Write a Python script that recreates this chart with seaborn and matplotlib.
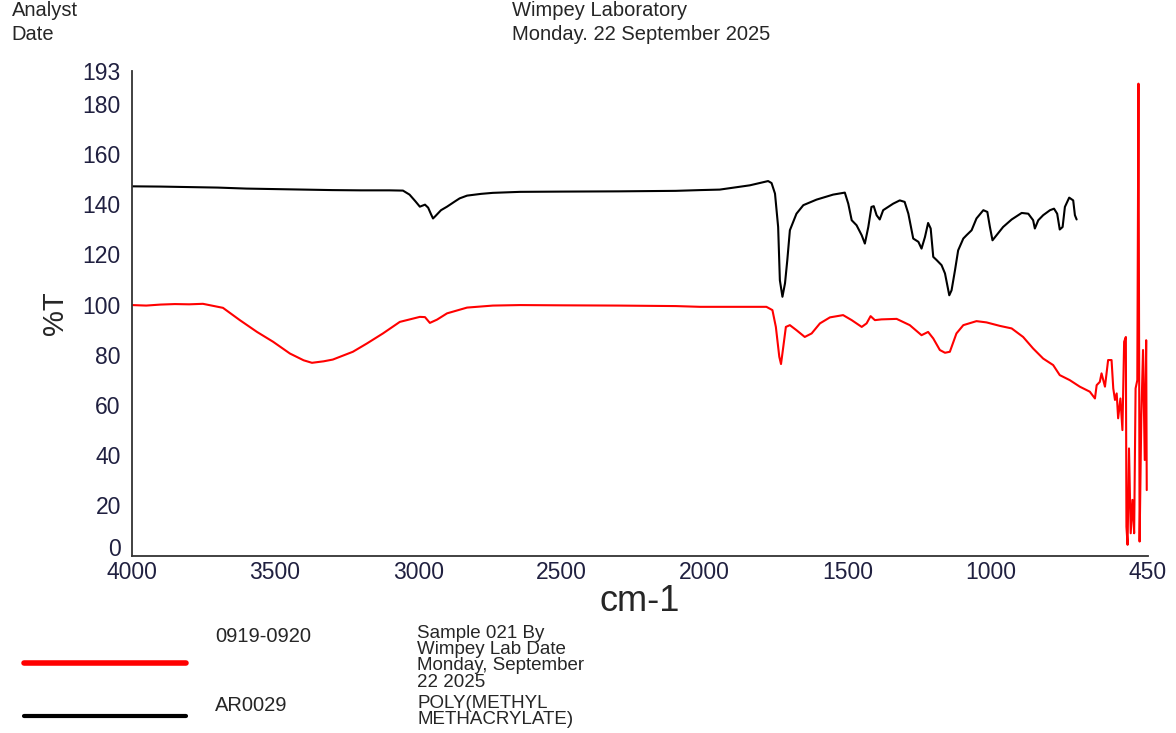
import numpy as np
import pandas as pd
import matplotlib
matplotlib.use("Agg")
import matplotlib.pyplot as plt
import matplotlib.transforms as mtransforms
from matplotlib.lines import Line2D
import seaborn as sns

# --- data (wavenumber cm-1, %T) ---
black_wn = [4000, 3900, 3800, 3700, 3600, 3500, 3400, 3300, 3200, 3100, 3053,
            3030, 3010, 2994, 2976, 2965, 2955, 2948, 2940, 2920, 2899, 2870,
            2855, 2829, 2780, 2739, 2644, 2500, 2300, 2100, 2015, 1946, 1841,
            1777, 1765, 1753, 1742, 1736, 1727, 1718, 1710, 1701, 1678, 1654,
            1608, 1550, 1509, 1497, 1485, 1468, 1450, 1439, 1427, 1416, 1408,
            1398, 1387, 1375, 1340, 1317, 1300, 1287, 1270, 1252, 1241, 1229,
            1218, 1209, 1200, 1188, 1171, 1159, 1144, 1136, 1124, 1113, 1095,
            1084, 1066, 1049, 1025, 1011, 1002, 993, 979, 956, 926, 891, 868,
            851, 845, 833, 816, 792, 778, 767, 758, 748, 740, 725, 711, 705, 699]
black_t = [147.1, 147.0, 146.8, 146.6, 146.2, 146.0, 145.8, 145.6, 145.5, 145.5, 145.4,
           143.8, 141.2, 139.0, 139.8, 138.6, 136.0, 134.3, 135.2, 137.6, 139.0, 141.2,
           142.3, 143.4, 144.1, 144.5, 144.9, 145.0, 145.1, 145.3, 145.6, 145.8, 147.5,
           149.2, 148.4, 144.2, 130.9, 109.7, 103.1, 108.5, 117.7, 129.6, 136.2, 139.6,
           141.8, 143.8, 144.6, 140.2, 133.6, 131.6, 127.6, 124.3, 130.9, 138.9, 139.2,
           135.6, 133.9, 137.6, 140.2, 141.5, 140.9, 136.2, 126.3, 125.0, 122.3, 126.9,
           132.5, 130.3, 119.0, 117.7, 115.7, 112.4, 103.7, 105.7, 113.7, 121.6, 126.3,
           127.6, 129.6, 134.3, 137.6, 136.9, 130.9, 125.6, 127.6, 130.9, 133.9, 136.5, 136.2,
           133.6, 130.3, 133.6, 135.6, 137.6, 138.2, 136.2, 129.9, 130.9, 138.9, 142.6, 141.5, 135.6, 133.9]

red_wn = [4000, 3950, 3900, 3850, 3800, 3752, 3682, 3623, 3563, 3507, 3448,
          3400, 3371, 3330, 3298, 3228, 3179, 3123, 3064, 2994, 2976, 2959,
          2934, 2899, 2829, 2739, 2644, 2500, 2300, 2100, 2015, 1850, 1783,
          1762, 1750, 1738, 1732, 1724, 1715, 1701, 1678, 1649, 1625, 1596,
          1561, 1515, 1485, 1450, 1433, 1419, 1404, 1381, 1328, 1282, 1241,
          1218, 1200, 1177, 1159, 1142, 1119, 1095, 1049, 1014, 967, 926,
          886, 851, 816, 781, 758, 723, 688, 653, 635, 629, 618, 612, 600,
          589, 577, 571, 565, 559, 554, 546, 539, 533, 527, 525, 521, 516,
          510, 504, 498, 493, 487, 483, 479, 473, 467, 461, 456, 454]
red_t = [99.8, 99.6, 100.0, 100.2, 100.1, 100.3, 98.7, 93.8, 89.1, 85.2, 80.5,
         77.8, 76.8, 77.4, 78.1, 81.2, 84.5, 88.5, 93.1, 95.1, 95.0, 92.7,
         94.0, 96.5, 98.8, 99.6, 99.8, 99.7, 99.6, 99.4, 99.1, 99.1, 99.1,
         97.8, 91.1, 79.2, 76.3, 83.2, 91.1, 91.8, 89.8, 87.1, 88.5, 92.5,
         94.9, 95.8, 93.8, 91.1, 92.5, 95.4, 93.8, 94.1, 94.3, 91.8, 87.8,
         89.1, 86.5, 81.9, 80.8, 81.2, 88.5, 91.8, 93.4, 92.9, 91.5, 90.5,
         87.1, 82.5, 78.5, 75.9, 71.9, 69.9, 67.3, 65.3, 62.6, 67.9, 69.2, 72.6, 67.3,
         77.9, 77.9, 66.6, 62.0, 64.6, 54.7, 62.6, 50.0, 85.2, 87.1, 11.5, 4.3, 42.7,
         8.9, 22.2, 8.9, 66.6, 69.9, 188.0, 5.6, 55.3, 81.9, 38.1, 85.8, 26.1]

y_ticks = [0, 20, 40, 60, 80, 100, 120, 140, 160, 180, 193]
x_ticks = [4000, 3500, 3000, 2500, 2000, 1500, 1000, 500, 450]
x_tick_labels = ["4000", "3500", "3000", "2500", "2000", "1500", "1000", "", "450"]

red_df = pd.DataFrame({"wn": red_wn, "T": red_t})
black_df = pd.DataFrame({"wn": black_wn, "T": black_t})

sns.set_style("white")
plt.rcParams["font.family"] = ["Liberation Sans", "DejaVu Sans"]
tick_col = "#202040"

fig = plt.figure(figsize=(11.76, 7.33), dpi=100)
ax = fig.add_axes([0.1122, 0.242, 0.8639, 0.661])

sns.lineplot(data=red_df, x="wn", y="T", color="red", lw=1.5, estimator=None, sort=False, ax=ax)
sns.lineplot(data=black_df, x="wn", y="T", color="black", lw=1.5, estimator=None, sort=False, ax=ax)

ax.set_xlim(4000, 450)
ax.set_ylim(0, 193)
ax.set_xticks(x_ticks)
ax.set_xticklabels(x_tick_labels)
ax.set_yticks(y_ticks)
ax.tick_params(axis="both", labelsize=16.5, colors="#333333", labelcolor=tick_col, width=1.2)
ax.tick_params(axis="y", length=7, pad=1)
ax.tick_params(axis="x", length=4, pad=0)
for s in ["top", "right"]:
    ax.spines[s].set_visible(False)
for s in ["left", "bottom"]:
    ax.spines[s].set_color("#333333")
    ax.spines[s].set_linewidth(1.3)
ax.set_xlabel("cm-1", fontsize=26, labelpad=0)
ax.set_ylabel("%T", fontsize=21, labelpad=10)

# lift the "0" label a little so it sits on the axis corner like the original
zero_lbl = ax.get_yticklabels()[0]
zero_lbl.set_transform(zero_lbl.get_transform() +
                       mtransforms.ScaledTranslation(0, 9 / 100, fig.dpi_scale_trans))

# header
fig.text(0.010, 0.985, "Analyst", fontsize=14.5, va="center")
fig.text(0.010, 0.953, "Date", fontsize=14.5, va="center")
fig.text(0.435, 0.985, "Wimpey Laboratory", fontsize=14.5, va="center")
fig.text(0.435, 0.953, "Monday. 22 September 2025", fontsize=14.5, va="center")

# legend block at the bottom
fig.add_artist(Line2D([0.0204, 0.158], [0.0955, 0.0955], color="red", lw=4, transform=fig.transFigure))
fig.add_artist(Line2D([0.0204, 0.158], [0.0232, 0.0232], color="black", lw=3, transform=fig.transFigure))
fig.text(0.183, 0.132, "0919-0920", fontsize=14.5, va="center")
fig.text(0.355, 0.148, "Sample 021 By\nWimpey Lab Date\nMonday, September\n22 2025",
         fontsize=13.5, va="top", linespacing=0.95)
fig.text(0.183, 0.037, "AR0029", fontsize=14.5, va="center")
fig.text(0.355, 0.052, "POLY(METHYL\nMETHACRYLATE)", fontsize=13.5, va="top", linespacing=0.95)

fig.savefig("out.png", dpi=100)
